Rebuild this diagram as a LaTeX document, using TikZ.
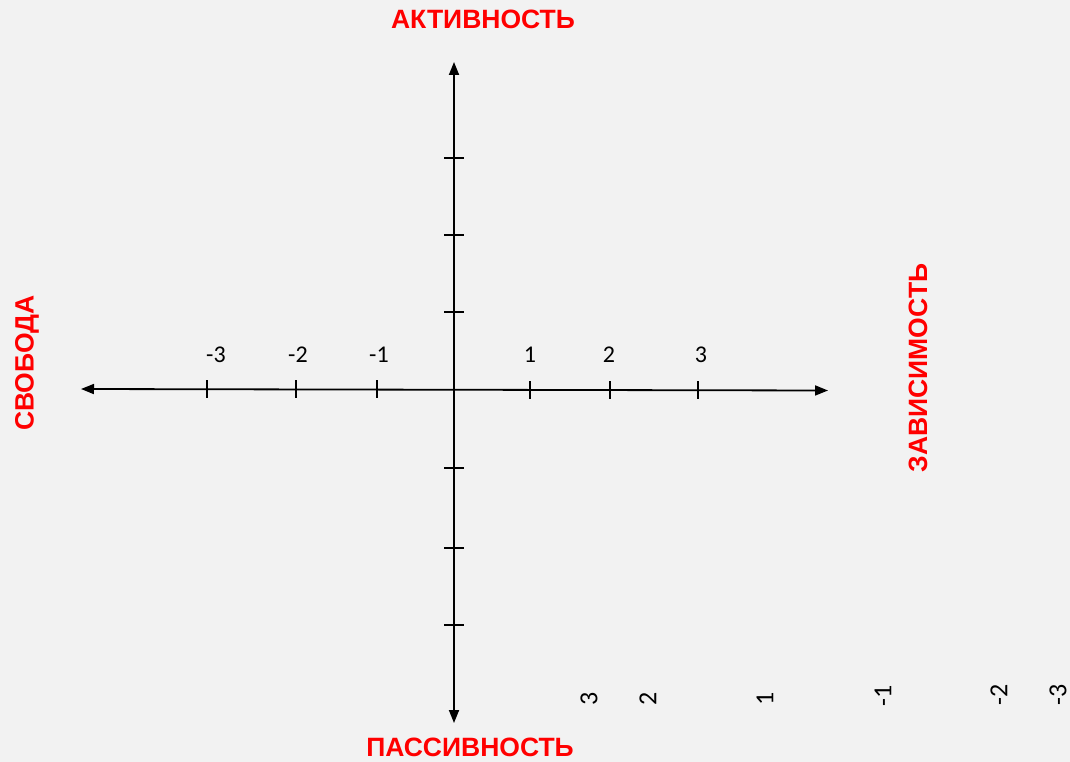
\documentclass[tikz,border=0pt]{standalone}
\usepackage{fontspec}
\setmainfont{Carlito}
\newfontfamily\axisfont{Liberation Sans}
\usetikzlibrary{arrows.meta}
\definecolor{paper}{HTML}{F2F2F2}
\definecolor{labelred}{HTML}{FF0000}

\begin{document}
\begin{tikzpicture}[x=1pt, y=-1pt,
    axis/.style={{Triangle[length=13pt,width=10pt]}-{Triangle[length=13pt,width=10pt]}, line width=1.8pt, draw=black},
    tick/.style={line width=1.5pt, draw=black},
    axislabel/.style={font=\axisfont\bfseries\fontsize{26.5}{30}\selectfont, text=labelred, inner sep=0pt},
    num/.style={font=\fontsize{24}{28}\selectfont, inner sep=0pt},
    sidenum/.style={font=\fontsize{26}{30}\selectfont, inner sep=0pt, rotate=90}]

\fill [paper] (0,0) rectangle (1070,762);
\useasboundingbox (0,0) rectangle (1070,762);

% axes
\coordinate (left) at (81,389);
\coordinate (right) at (828,390.5);
\coordinate (top) at (454,62);
\coordinate (bottom) at (454,723);
\draw [axis] (left) -- (right);
\draw [axis] (top) -- (bottom);

% ticks on the horizontal axis
\draw [tick] (207,380) -- (207,398);
\draw [tick] (296,380) -- (296,398);
\draw [tick] (377,380) -- (377,398);
\draw [tick] (530,381) -- (530,399);
\draw [tick] (610,381) -- (610,399);
\draw [tick] (698,381) -- (698,399);

% ticks on the vertical axis
\draw [tick] (444,158) -- (464,158);
\draw [tick] (444,235) -- (464,235);
\draw [tick] (444,312) -- (464,312);
\draw [tick] (444,468) -- (464,468);
\draw [tick] (444,548) -- (464,548);
\draw [tick] (444,625) -- (464,625);

% scale numbers
\node [num] (mthree) at (216,355) {-3};
\node [num] (mtwo) at (298,355) {-2};
\node [num] (mone) at (379,355) {-1};
\node [num] (pone) at (530,355) {1};
\node [num] (ptwo) at (609,355) {2};
\node [num] (pthree) at (701,355) {3};

\node [sidenum] (sthree) at (589,699) {3};
\node [sidenum] (stwo) at (648,699) {2};
\node [sidenum] (sone) at (765,698.5) {1};
\node [sidenum] (smone) at (883,695.5) {-1};
\node [sidenum] (smtwo) at (999,695) {-2};
\node [sidenum] (smthree) at (1058,695) {-3};

% pole names
\node [axislabel] (aktivnost) at (483,19) {АКТИВНОСТЬ};
\node [axislabel] (passivnost) at (470,747.5) {ПАССИВНОСТЬ};
\node [axislabel, rotate=90] (svoboda) at (27,363) {СВОБОДА};
\node [axislabel, rotate=90] (zavisimost) at (918,368) {ЗАВИСИМОСТЬ};

\end{tikzpicture}
\end{document}
